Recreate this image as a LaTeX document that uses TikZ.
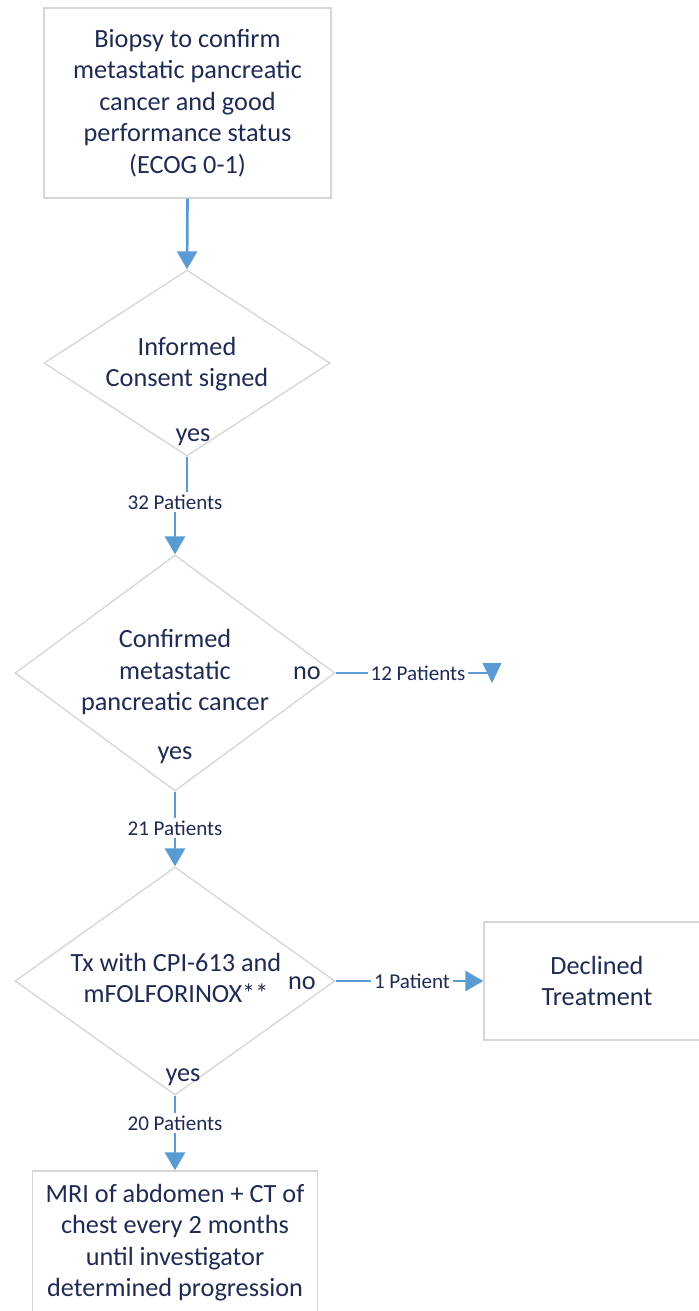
\documentclass[tikz,border=0pt]{standalone}
\usepackage{fontspec}
\setmainfont{Carlito}
\usetikzlibrary{shapes.geometric,arrows.meta}
\definecolor{linegray}{RGB}{214,214,214}
\definecolor{flowblue}{RGB}{91,155,213}
\definecolor{inkblue}{RGB}{32,43,84}
\newcommand{\bigtxt}{\fontsize{19.7}{23.6}\selectfont}
\newcommand{\smalltxt}{\fontsize{15.8}{18}\selectfont}

\begin{document}
\begin{tikzpicture}[x=0.75pt,y=-0.75pt,
  box/.style={draw=linegray, line width=1pt, text=inkblue, align=center, font=\bigtxt},
  decision/.style={diamond, draw=linegray, line width=1pt, inner sep=0pt},
  txt/.style={text=inkblue, align=center, font=\bigtxt},
  count/.style={text=inkblue, font=\smalltxt, inner sep=2pt},
  flow/.style={draw=flowblue, line width=2pt, -{Triangle[width=15pt,length=13.5pt]}},
  link/.style={draw=flowblue, line width=1.8pt}]
\useasboundingbox[fill=white] (0,0) rectangle (699,1311);

% boxes
\node[box, minimum width=215.25pt, minimum height=142.5pt] (biopsy) at (187.5,103) {Biopsy to confirm\\metastatic pancreatic\\cancer and good\\performance status\\(ECOG 0-1)};
\node[box, minimum width=169.5pt, minimum height=88.5pt] (declined) at (597,981) {Declined\\Treatment};
\node[box, minimum width=213.75pt, minimum height=107.25pt] (imaging) at (175,1242.5) {MRI of abdomen + CT of\\chest every 2 months\\until investigator\\determined progression};

% decisions
\node[decision, minimum width=214.5pt, minimum height=139.5pt] (consent) at (187,363) {};
\node[txt] (consenttxt) at (187,364) {Informed\\Consent signed};
\node[txt] (yes1) at (193,437) {yes};

\node[decision, minimum width=240pt, minimum height=177pt] (confirm) at (175,673) {};
\node[txt] (confirmtxt) at (175,672) {Confirmed\\metastatic\\pancreatic cancer};
\node[txt] (no1) at (307,673) {no};
\node[txt] (yes2) at (175,755) {yes};

\node[decision, minimum width=240pt, minimum height=171pt] (treat) at (175,981) {};
\node[txt] (treattxt) at (176,978) {Tx with CPI-613 and\\mFOLFORINOX**};
\node[txt] (no2) at (302,983) {no};
\node[txt] (yes3) at (183,1077) {yes};

% patient counts
\node[count] (n32) at (175,502) {32 Patients};
\node[count] (n12) at (418,673) {12 Patients};
\node[count] (n21) at (175,828) {21 Patients};
\node[count] (n1) at (412,981) {1 Patient};
\node[count] (n20) at (175,1123) {20 Patients};

% connectors
\draw[flow] (biopsy.south) -- (consent.north);
\draw[link] (consent.south) -- (consent.south |- n32.north);
\draw[flow] (n32.south) -- (confirm.north);
\draw[link] (confirm.east) -- (n12.west);
\coordinate (end12) at (492,673);
\draw[link] (n12.east) -- (end12);
\fill[flowblue] (end12) ++(-9.5,-10) -- ++(19,0) -- ++(-9.5,20) -- cycle;
\draw[link] (confirm.south) -- (n21.north);
\draw[flow] (n21.south) -- (treat.north);
\draw[link] (treat.east) -- (n1.west);
\draw[flow] (n1.east) -- (declined.west);
\draw[link] (treat.south) -- (n20.north);
\draw[flow] (n20.south) -- (imaging.north);
\end{tikzpicture}
\end{document}
